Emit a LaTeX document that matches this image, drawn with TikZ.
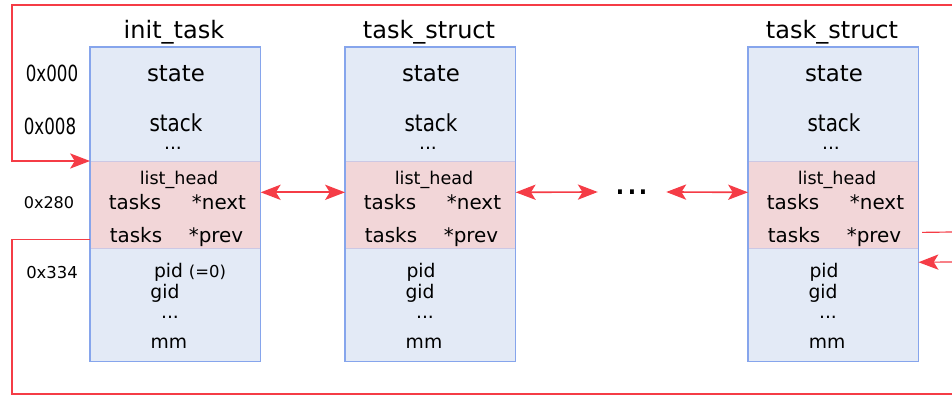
\documentclass[tikz,border=0pt]{standalone}
\usepackage{fontspec}
\usepackage{graphicx}
\setmainfont{DejaVu Sans}
\usetikzlibrary{arrows.meta}
\definecolor{boxfill}{HTML}{E3EAF6}
\definecolor{boxedge}{HTML}{86A5EC}
\definecolor{headfill}{HTML}{F2D6D8}
\definecolor{headedge}{HTML}{CCC8E4}
\definecolor{linkred}{HTML}{F53C46}
\newcommand{\fs}[1]{\fontsize{#1}{#1}\selectfont}
\newcommand{\narrow}[2]{\scalebox{#1}[1]{#2}}
\newcommand{\pidzero}{pid {\fs{14}(=0)}}
\tikzset{> = {Stealth[length=17pt, width=13pt, inset=4pt]}}
\tikzset{
  taskbox/.style  = {anchor=north west, fill=boxfill, minimum width=5.1cm, minimum height=9.42cm, inner sep=0pt},
  headbox/.style  = {anchor=north west, fill=headfill, draw=headedge, line width=0.6pt, minimum width=5.1cm, minimum height=2.61cm, inner sep=0pt},
  boxline/.style  = {draw=boxedge, line width=1.2pt},
  title/.style    = {anchor=base, inner sep=0pt, font=\fs{20.5}},
  field/.style    = {anchor=base, inner sep=0pt, font=\fs{17}},
  small/.style    = {anchor=base, inner sep=0pt, font=\fs{16}},
  addr/.style     = {anchor=base, inner sep=0pt, font=\fs{14}},
  link/.style     = {draw=linkred, line width=1.4pt},
  wrap/.style     = {draw=linkred, line width=1pt},
}

\begin{document}
\begin{tikzpicture}[x=0.03cm, y=-0.03cm]
\useasboundingbox (0,0) rectangle (952,396);
% task structs
\foreach \bx/\nm/\ttl/\pid/\px in {90/t1/init\_task/\pidzero/100, 345/t2/task\_struct/pid/76, 748/t3/task\_struct/pid/76} {
  \node[taskbox] (\nm) at (\bx,47) {};
  \node[headbox] (\nm-lh) at (\bx,161) {};
  \draw[boxline] (\nm.north west) rectangle (\nm.south east);
  \node[title] (\nm-title) at (\bx+84,39) {\ttl};
  \node[field, font=\fs{19.5}] (\nm-state) at (\bx+86,82) {state};
  \node[field, font=\fs{20}] (\nm-stack) at (\bx+86,131) {\narrow{0.85}{stack}};
  \node[small] (\nm-dotsa) at (\bx+83,149) {...};
  \node[field, font=\fs{15}] (\nm-head) at (\bx+89,184) {list\_head};
  \node[field] (\nm-tn) at (\bx+45,209) {tasks};
  \node[field] (\nm-next) at (\bx+129,209) {*next};
  \node[field] (\nm-tp) at (\bx+46,242) {tasks};
  \node[field] (\nm-prev) at (\bx+126,242) {*prev};
  \node[small] (\nm-pid) at (\bx+\px,277) {\pid};
  \node[small] (\nm-gid) at (\bx+75,298) {gid};
  \node[small] (\nm-dotsb) at (\bx+80,318) {...};
  \node[small] (\nm-mm) at (\bx+79,348) {mm};
}
% offsets
\node[addr, font=\fs{19}] (a000) at (52,81) {\narrow{0.75}{0x000}};
\node[addr, font=\fs{19}] (a008) at (50,134) {\narrow{0.75}{0x008}};
\node[addr, font=\fs{13.7}] (a280) at (49,208) {0x280};
\node[addr] (a334) at (52,278) {0x334};
% gap between structs
\node[inner sep=0pt, minimum width=2.04cm, font=\fs{32}] (gap) at (632,192) {...};
% links
\draw[link, <->] ([yshift=10.7pt]t1-lh.east) -- ([yshift=10.7pt]t2-lh.west);
\draw[link, <->] ([yshift=10.7pt]t2-lh.east) -- (gap.west);
\draw[link, <->] (gap.east) -- ([yshift=10.7pt]t3-lh.west);
% wrap around
\coordinate (topend) at (952,5);
\coordinate (botend) at (952,394);
\coordinate (prevend) at (952,232);
\coordinate (nextend) at (952,262);
\draw[wrap, ->] (topend) -- (12,5) |- (t1-lh.north west);
\draw[wrap] ([yshift=-29.4pt]t1-lh.west) -| (12,394) -- (botend);
\draw[wrap] ([xshift=3pt, yshift=-23.5pt]t3-lh.east) -- (prevend);
\draw[wrap, ->] (nextend) -- ([yshift=-49.5pt]t3.east);
\end{tikzpicture}
\end{document}
